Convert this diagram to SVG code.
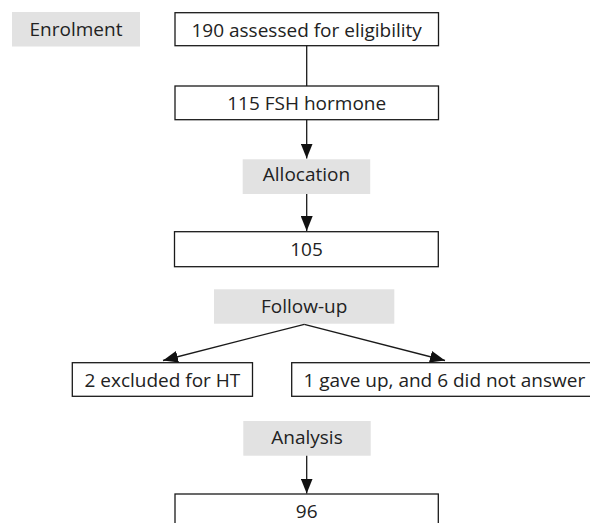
<svg xmlns="http://www.w3.org/2000/svg" width="590" height="523" viewBox="0 0 590 523">
<style>
  .box { fill: #ffffff; stroke: #1a1a1a; stroke-width: 1.3; }
  .stage { fill: #e2e2e2; stroke: none; }
  .t { font-family: "Open Sans", "Noto Sans", "Liberation Sans", sans-serif; font-size: 19px; fill: #222222; text-anchor: middle; }
  .conn { stroke: #1a1a1a; stroke-width: 1.3; fill: none; }
</style>
<defs>
  <marker id="arr" viewBox="0 0 15 12" markerWidth="15" markerHeight="12" refX="15" refY="6" orient="auto" markerUnits="userSpaceOnUse">
    <path d="M0,0 L15,6 L0,12 z" fill="#111111"/>
  </marker>
</defs>
<rect width="590" height="523" fill="#ffffff"/>

<g id="enrolment">
  <rect class="stage" x="12" y="12" width="128" height="34.5"/>
  <text class="t" x="76" y="36">Enrolment</text>
</g>
<g id="assessed">
  <rect class="box" x="175" y="12.7" width="263.5" height="33"/>
  <text class="t" x="306.7" y="36.5">190 assessed for eligibility</text>
</g>
<g id="fsh">
  <rect class="box" x="175" y="86" width="263.5" height="33.7"/>
  <text class="t" x="306.7" y="110">115 FSH hormone</text>
</g>
<g id="allocation">
  <rect class="stage" x="242.7" y="159.3" width="127.5" height="34.7"/>
  <text class="t" x="306.5" y="181">Allocation</text>
</g>
<g id="n105">
  <rect class="box" x="174.5" y="231.7" width="263.8" height="35"/>
  <text class="t" x="306.5" y="256">105</text>
</g>
<g id="followup">
  <rect class="stage" x="214" y="289.3" width="180.3" height="34.4"/>
  <text class="t" x="304.2" y="312.5">Follow-up</text>
</g>
<g id="excluded">
  <rect class="box" x="72.3" y="362.7" width="180.2" height="33.6"/>
  <text class="t" x="162.4" y="386.7">2 excluded for HT</text>
</g>
<g id="gaveup">
  <rect class="box" x="291.7" y="362.7" width="310" height="33.6"/>
  <text class="t" x="303.5" y="386.7" style="text-anchor:start">1 gave up, and 6 did not answer</text>
</g>
<g id="analysis">
  <rect class="stage" x="243.3" y="421" width="127.4" height="34.7"/>
  <text class="t" x="307" y="443.5">Analysis</text>
</g>
<g id="n96">
  <rect class="box" x="175" y="494" width="263.3" height="40"/>
  <text class="t" x="306.7" y="518.3">96</text>
</g>

<g id="connectors">
  <line class="conn" x1="306.7" y1="45.7" x2="306.7" y2="86"/>
  <line class="conn" x1="306.7" y1="119.7" x2="306.7" y2="158.5" marker-end="url(#arr)"/>
  <line class="conn" x1="306.7" y1="194" x2="306.7" y2="231" marker-end="url(#arr)"/>
  <line class="conn" x1="304.3" y1="324.3" x2="163" y2="360.5" marker-end="url(#arr)"/>
  <line class="conn" x1="304.3" y1="324.3" x2="445" y2="360.5" marker-end="url(#arr)"/>
  <line class="conn" x1="306.7" y1="455.7" x2="306.7" y2="493.5" marker-end="url(#arr)"/>
</g>
</svg>
